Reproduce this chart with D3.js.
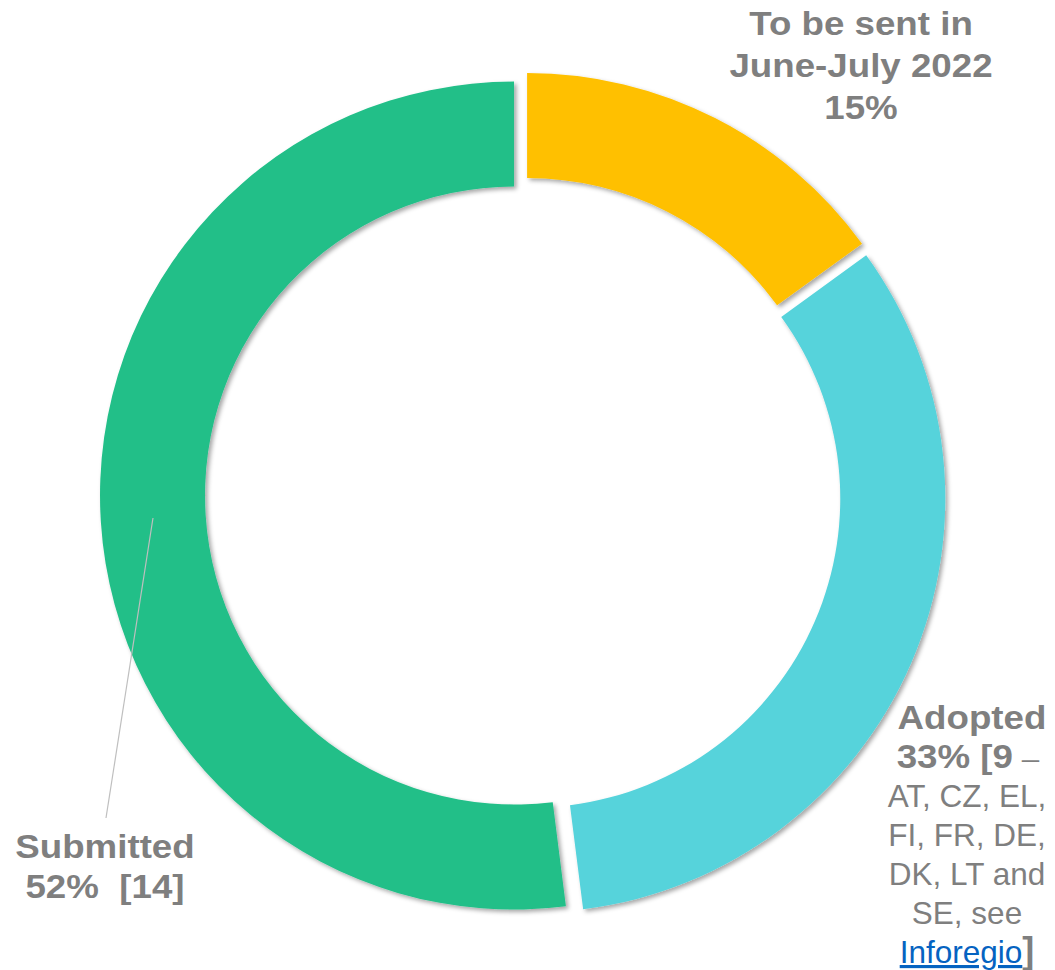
<!DOCTYPE html>
<html>
<head>
<meta charset="utf-8">
<script src="https://cdn.jsdelivr.net/npm/d3@7"></script>
<style>
  body { margin: 0; background: #fff; }
  svg text { font-family: "Liberation Sans", Arial, sans-serif; fill: #7f7f7f; white-space: pre; }
</style>
</head>
<body>
<svg id="chart" width="1055" height="970"></svg>
<script>
const categories = ['To be sent in June-July 2022', 'Adopted', 'Submitted']
const shares = [15, 33, 52]
const colors = ['#ffc000', '#56d3db', '#21bf88']

const topLabel = ['To be sent in', 'June-July 2022', '15%']
const submittedLabel = ['Submitted', '52%  [14]']
const adoptedCountries = ['AT, CZ, EL,', 'FI, FR, DE,', 'DK, LT and', 'SE, see']

const dims = {
    cx: 523,
    cy: 495,
    outer: 414,
    inner: 309,
    explode: 9
}

const svg = d3.select('#chart')

const defs = svg.append('defs')
defs.append('filter')
    .attr('id', 'shadow')
    .attr('x', '-10%').attr('y', '-10%')
    .attr('width', '120%').attr('height', '120%')
  .append('feDropShadow')
    .attr('dx', 2.5)
    .attr('dy', 2.5)
    .attr('stdDeviation', 2.2)
    .attr('flood-color', '#000')
    .attr('flood-opacity', 0.35)

const pie = d3.pie().sort(null).value(d => d)
const arc = d3.arc().innerRadius(dims.inner).outerRadius(dims.outer)

const slices = svg.append('g')
    .attr('transform', `translate(${dims.cx},${dims.cy})`)
  .selectAll('path')
  .data(pie(shares))
  .enter().append('path')
    .attr('d', arc)
    .attr('fill', (d, i) => colors[i])
    .attr('filter', 'url(#shadow)')
    .attr('transform', d => {
        let mid = (d.startAngle + d.endAngle) / 2
        let dx = Math.sin(mid) * dims.explode
        let dy = -Math.cos(mid) * dims.explode
        return `translate(${dx},${dy})`
    })

// leader line for Submitted
svg.append('line')
    .attr('x1', 153).attr('y1', 518)
    .attr('x2', 106).attr('y2', 818)
    .attr('stroke', '#bfbfbf')
    .attr('stroke-width', 1.2)

const boldSize = 32.5,
      regSize = 31.5,
      stretch = 1.13

function boldLine(x, y, str) {
    return svg.append('text')
        .attr('transform', `translate(${x},${y}) scale(${stretch},1)`)
        .attr('text-anchor', 'middle')
        .attr('font-weight', 'bold')
        .attr('font-size', boldSize)
        .text(str)
}

// top label
topLabel.forEach((t, i) => boldLine(861, 35 + i * 42, t))

// submitted label
submittedLabel.forEach((t, i) => boldLine(105, 858 + i * 40, t))

// adopted label
boldLine(972, 729, 'Adopted')

let l2 = svg.append('text')
    .attr('transform', `translate(968,768) scale(${stretch},1)`)
    .attr('text-anchor', 'middle')
    .attr('font-size', boldSize)
l2.append('tspan').attr('font-weight', 'bold').text('33% [9')
l2.append('tspan').attr('font-size', regSize / stretch).text(' \u2013')

adoptedCountries.forEach((t, i) => {
    svg.append('text')
        .attr('x', 967)
        .attr('y', 807 + i * 39)
        .attr('text-anchor', 'middle')
        .attr('font-size', regSize)
        .text(t)
})

let last = svg.append('text')
    .attr('x', 967)
    .attr('y', 963)
    .attr('text-anchor', 'middle')
    .attr('font-size', regSize)
last.append('tspan')
    .style('fill', '#0563c1')
    .attr('text-decoration', 'underline')
    .text('Inforegio')
last.append('tspan')
    .attr('font-weight', 'bold')
    .attr('font-size', 36)
    .text(']')
</script>
</body>
</html>
